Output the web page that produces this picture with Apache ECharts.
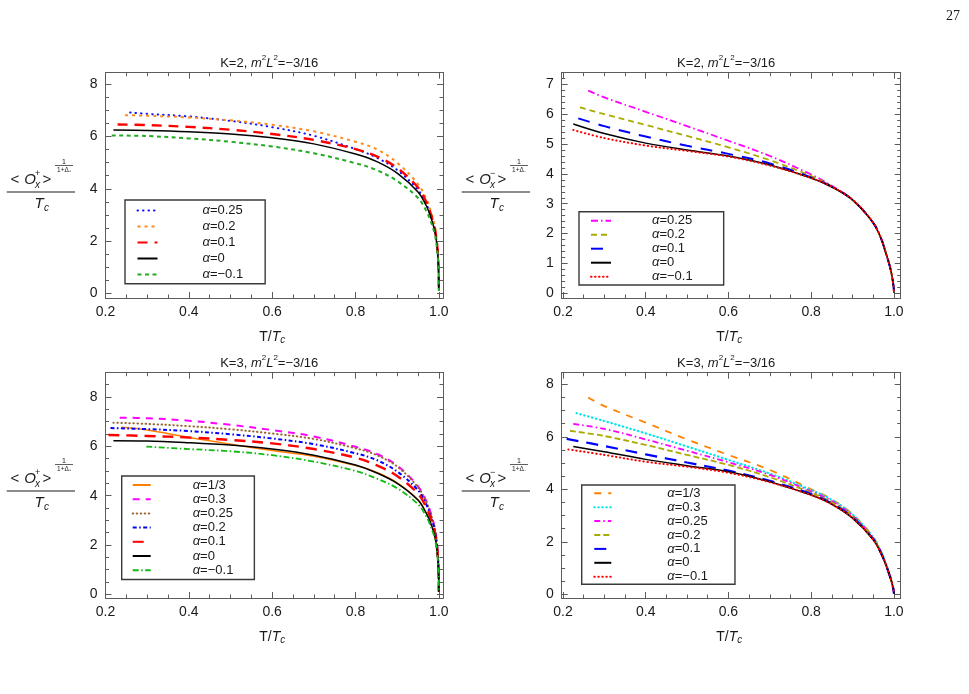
<!DOCTYPE html>
<html>
<head>
<meta charset="utf-8">
<script src="https://cdn.jsdelivr.net/npm/echarts@6/dist/echarts.min.js"></script>
<style>
html, body { margin: 0; padding: 0; background: #fff; }
#chart { width: 969px; height: 694px; }
</style>
</head>
<body>
<div id="chart"></div>
<script>
// ---- tick labels ----
var xTicks = [0.2, 0.4, 0.6, 0.8, 1.0];
var yTicksEven = [0, 2, 4, 6, 8];
var yTicksOne = [0, 1, 2, 3, 4, 5, 6, 7];

// ---- K=2, O+ ----  [T/Tc, value]
var k2p_a025 = [[0.259,6.92],[0.3,6.87],[0.4,6.77],[0.5,6.6],[0.6,6.36],[0.7,6.03],[0.8,5.52],[0.85,5.2],[0.9,4.72],[0.95,3.96],[0.97,3.42],[0.98,3.0],[0.99,2.45],[0.995,1.95],[0.998,1.4],[0.9995,0.8],[1.0,0.1]];
var k2p_a02  = [[0.247,6.82],[0.3,6.8],[0.4,6.73],[0.5,6.62],[0.6,6.45],[0.7,6.2],[0.8,5.8],[0.85,5.52],[0.9,5.0],[0.95,4.18],[0.97,3.62],[0.98,3.18],[0.99,2.6],[0.995,2.05],[0.998,1.45],[0.9995,0.85],[1.0,0.1]];
var k2p_a01  = [[0.229,6.46],[0.3,6.44],[0.4,6.37],[0.5,6.26],[0.6,6.1],[0.7,5.87],[0.8,5.52],[0.85,5.25],[0.9,4.8],[0.95,4.05],[0.97,3.5],[0.98,3.08],[0.99,2.5],[0.995,2.0],[0.998,1.42],[0.9995,0.82],[1.0,0.1]];
var k2p_a0   = [[0.219,6.25],[0.3,6.23],[0.4,6.18],[0.5,6.1],[0.6,5.95],[0.7,5.72],[0.8,5.33],[0.85,5.05],[0.9,4.6],[0.95,3.88],[0.97,3.35],[0.98,2.95],[0.99,2.4],[0.995,1.9],[0.998,1.35],[0.9995,0.78],[1.0,0.1]];
var k2p_am01 = [[0.215,6.04],[0.3,6.02],[0.4,5.93],[0.5,5.8],[0.6,5.62],[0.7,5.36],[0.8,4.98],[0.85,4.72],[0.9,4.3],[0.95,3.65],[0.97,3.15],[0.98,2.78],[0.99,2.28],[0.995,1.8],[0.998,1.28],[0.9995,0.75],[1.0,0.1]];

// ---- K=2, O- ----
var k2m_a025 = [[0.261,6.79],[0.3,6.56],[0.4,6.08],[0.5,5.6],[0.6,5.11],[0.7,4.6],[0.8,3.98],[0.85,3.6],[0.9,3.12],[0.95,2.36],[0.97,1.8],[0.98,1.38],[0.99,0.92],[0.995,0.6],[0.999,0.25],[1.0,0.05]];
var k2m_a02  = [[0.241,6.23],[0.3,6.0],[0.4,5.64],[0.5,5.27],[0.6,4.89],[0.7,4.46],[0.8,3.93],[0.85,3.58],[0.9,3.12],[0.95,2.36],[0.97,1.8],[0.98,1.38],[0.99,0.92],[0.995,0.6],[0.999,0.25],[1.0,0.05]];
var k2m_a01  = [[0.237,5.86],[0.3,5.6],[0.4,5.25],[0.5,4.94],[0.6,4.67],[0.7,4.35],[0.8,3.88],[0.85,3.57],[0.9,3.13],[0.95,2.36],[0.97,1.8],[0.98,1.37],[0.99,0.91],[0.995,0.6],[0.999,0.25],[1.0,0.05]];
var k2m_a0   = [[0.225,5.67],[0.3,5.35],[0.4,5.03],[0.5,4.8],[0.6,4.6],[0.7,4.3],[0.8,3.86],[0.85,3.56],[0.9,3.13],[0.95,2.36],[0.97,1.8],[0.98,1.37],[0.99,0.91],[0.995,0.6],[0.999,0.25],[1.0,0.02]];
var k2m_am01 = [[0.225,5.47],[0.3,5.2],[0.4,4.95],[0.5,4.77],[0.6,4.58],[0.7,4.28],[0.8,3.86],[0.85,3.57],[0.9,3.14],[0.95,2.37],[0.97,1.81],[0.98,1.38],[0.99,0.92],[0.995,0.6],[0.999,0.25],[1.0,0.05]];

// ---- K=3, O+ ----
var k3p_a13  = [[0.239,6.77],[0.3,6.66],[0.4,6.36],[0.5,6.09],[0.6,5.83],[0.7,5.6],[0.8,5.22],[0.85,4.95],[0.9,4.52],[0.95,3.83],[0.97,3.3],[0.98,2.92],[0.99,2.4],[0.995,1.9],[0.998,1.35],[0.9995,0.78],[1.0,0.1]];
var k3p_a03  = [[0.234,7.16],[0.3,7.14],[0.4,7.04],[0.5,6.87],[0.6,6.66],[0.7,6.4],[0.8,5.98],[0.85,5.7],[0.9,5.22],[0.95,4.38],[0.97,3.78],[0.98,3.32],[0.99,2.72],[0.995,2.15],[0.998,1.52],[0.9995,0.88],[1.0,0.1]];
var k3p_a025 = [[0.219,6.96],[0.3,6.91],[0.4,6.82],[0.5,6.69],[0.6,6.52],[0.7,6.3],[0.8,5.92],[0.85,5.65],[0.9,5.18],[0.95,4.34],[0.97,3.74],[0.98,3.3],[0.99,2.7],[0.995,2.13],[0.998,1.5],[0.9995,0.87],[1.0,0.1]];
var k3p_a02  = [[0.212,6.74],[0.3,6.7],[0.4,6.62],[0.5,6.49],[0.6,6.32],[0.7,6.09],[0.8,5.72],[0.85,5.45],[0.9,4.98],[0.95,4.22],[0.97,3.64],[0.98,3.2],[0.99,2.62],[0.995,2.07],[0.998,1.46],[0.9995,0.85],[1.0,0.1]];
var k3p_a01  = [[0.207,6.46],[0.3,6.42],[0.4,6.36],[0.5,6.26],[0.6,6.12],[0.7,5.89],[0.8,5.54],[0.85,5.24],[0.9,4.8],[0.95,4.08],[0.97,3.52],[0.98,3.1],[0.99,2.53],[0.995,2.0],[0.998,1.42],[0.9995,0.82],[1.0,0.1]];
var k3p_a0   = [[0.219,6.23],[0.3,6.22],[0.4,6.15],[0.5,6.05],[0.6,5.89],[0.7,5.64],[0.8,5.24],[0.85,4.93],[0.9,4.5],[0.95,3.82],[0.97,3.28],[0.98,2.9],[0.99,2.38],[0.995,1.88],[0.998,1.33],[0.9995,0.77],[1.0,0.1]];
var k3p_am01 = [[0.298,5.99],[0.4,5.89],[0.5,5.8],[0.6,5.64],[0.7,5.38],[0.8,5.0],[0.85,4.7],[0.9,4.3],[0.95,3.65],[0.97,3.15],[0.98,2.78],[0.99,2.28],[0.995,1.8],[0.998,1.28],[0.9995,0.74],[1.0,0.1]];

// ---- K=3, O- ----
var k3m_a13  = [[0.261,7.5],[0.3,7.17],[0.4,6.54],[0.5,5.9],[0.6,5.31],[0.7,4.74],[0.8,4.0],[0.85,3.62],[0.9,3.05],[0.95,2.18],[0.97,1.6],[0.98,1.2],[0.99,0.74],[0.995,0.46],[0.999,0.18],[1.0,0.03]];
var k3m_a03  = [[0.233,6.9],[0.3,6.6],[0.4,6.13],[0.5,5.63],[0.6,5.12],[0.7,4.6],[0.8,3.97],[0.85,3.6],[0.9,3.04],[0.95,2.17],[0.97,1.59],[0.98,1.19],[0.99,0.73],[0.995,0.46],[0.999,0.18],[1.0,0.03]];
var k3m_a025 = [[0.225,6.49],[0.3,6.3],[0.4,5.9],[0.5,5.47],[0.6,5.03],[0.7,4.55],[0.8,3.92],[0.85,3.55],[0.9,3.0],[0.95,2.14],[0.97,1.57],[0.98,1.17],[0.99,0.72],[0.995,0.45],[0.999,0.17],[1.0,0.03]];
var k3m_a02  = [[0.217,6.23],[0.3,6.03],[0.4,5.69],[0.5,5.31],[0.6,4.93],[0.7,4.46],[0.8,3.87],[0.85,3.5],[0.9,2.97],[0.95,2.12],[0.97,1.55],[0.98,1.16],[0.99,0.71],[0.995,0.45],[0.999,0.17],[1.0,0.03]];
var k3m_a01  = [[0.209,5.92],[0.3,5.65],[0.4,5.33],[0.5,5.02],[0.6,4.71],[0.7,4.32],[0.8,3.82],[0.85,3.46],[0.9,2.93],[0.95,2.1],[0.97,1.53],[0.98,1.15],[0.99,0.7],[0.995,0.44],[0.999,0.17],[1.0,0.03]];
var k3m_a0   = [[0.225,5.63],[0.3,5.43],[0.4,5.14],[0.5,4.9],[0.6,4.67],[0.7,4.29],[0.8,3.78],[0.85,3.43],[0.9,2.9],[0.95,2.08],[0.97,1.52],[0.98,1.14],[0.99,0.7],[0.995,0.44],[0.999,0.17],[1.0,0.02]];
var k3m_am01 = [[0.213,5.52],[0.3,5.31],[0.4,5.05],[0.5,4.86],[0.6,4.63],[0.7,4.27],[0.8,3.78],[0.85,3.43],[0.9,2.91],[0.95,2.09],[0.97,1.53],[0.98,1.15],[0.99,0.7],[0.995,0.44],[0.999,0.17],[1.0,0.03]];

var FONT = '"Liberation Sans", Arial, sans-serif';
var frameColor = '#5c5c5c';
var textColor = '#1a1a1a';

// 面板设置
var panels = [
	{
		rect: {left: 105.5, top: 72.7, width: 337.5, height: 225.3},
		x: [0.2, 1.01], y: [-0.18, 8.444], yTicks: yTicksEven, yStep: 0.5,
		k: '2', sign: '+', cx: 41, by: 192,
		legend: {left: 125, top: 200, padding: [4, 22, 2.8, 11.5], itemWidth: 20, itemHeight: 12, itemGap: 3, pad: 40},
		series: [
			{label: '0.25', data: k2p_a025, color: '#1010ff', dash: [0.5, 5], width: 2, cap: 'round'},
			{label: '0.2', data: k2p_a02, color: '#ff8a1c', dash: [3, 4], width: 2},
			{label: '0.1', data: k2p_a01, color: '#ff0000', dash: [10, 7], width: 2.4},
			{label: '0', data: k2p_a0, color: '#000000', width: 1.5},
			{label: '−0.1', data: k2p_am01, color: '#22aa22', dash: [4, 3.5], width: 2}
		]
	},
	{
		rect: {left: 561.7, top: 72.7, width: 339, height: 225.3},
		x: [0.197, 1.0164], y: [-0.157, 7.389], yTicks: yTicksOne, yStep: 0.2,
		k: '2', sign: '−', cx: 496, by: 192,
		legend: {left: 579, top: 211.7, padding: [2.5, 31, 1.8, 11], itemWidth: 20, itemHeight: 10, itemGap: 1, pad: 36},
		series: [
			{label: '0.25', data: k2m_a025, color: '#ff00ff', dash: [7, 3, 1.5, 3], width: 1.8},
			{label: '0.2', data: k2m_a02, color: '#aaaa00', dash: [6, 4], width: 1.8},
			{label: '0.1', data: k2m_a01, color: '#0000ff', dash: [12, 9], width: 2},
			{label: '0', data: k2m_a0, color: '#000000', width: 1.5},
			{label: '−0.1', data: k2m_am01, color: '#ff0000', dash: [0.5, 3.5], width: 2, cap: 'round'}
		]
	},
	{
		rect: {left: 105.5, top: 372.7, width: 337.5, height: 225.3},
		x: [0.2, 1.01], y: [-0.15, 8.986], yTicks: yTicksEven, yStep: 0.5,
		k: '3', sign: '+', cx: 41, by: 491,
		legend: {left: 121.7, top: 476, padding: [2.5, 21, 2.8, 10], itemWidth: 18, itemHeight: 10, itemGap: 1.2, pad: 37},
		series: [
			{label: '1/3', data: k3p_a13, color: '#ff8000', width: 1.5},
			{label: '0.3', data: k3p_a03, color: '#ff00ff', dash: [7, 6], width: 2},
			{label: '0.25', data: k3p_a025, color: '#996633', dash: [0.5, 3.5], width: 2, cap: 'round'},
			{label: '0.2', data: k3p_a02, color: '#0000ff', dash: [4, 2.5, 1.5, 2.5], width: 2},
			{label: '0.1', data: k3p_a01, color: '#ff0000', dash: [11, 7], width: 2.4},
			{label: '0', data: k3p_a0, color: '#000000', width: 1.5},
			{label: '−0.1', data: k3p_am01, color: '#11bb11', dash: [6, 2.5, 1.5, 2.5], width: 1.8}
		]
	},
	{
		rect: {left: 561.7, top: 372.7, width: 339, height: 225.3},
		x: [0.197, 1.0164], y: [-0.141, 8.442], yTicks: yTicksEven, yStep: 0.5,
		k: '3', sign: '−', cx: 496, by: 491,
		legend: {left: 581.7, top: 485, padding: [1.8, 27, 1.1, 11.6], itemWidth: 17, itemHeight: 10, itemGap: 0.9, pad: 51},
		series: [
			{label: '1/3', data: k3m_a13, color: '#ff8000', dash: [7, 7], width: 1.8},
			{label: '0.3', data: k3m_a03, color: '#00e6e6', dash: [0.5, 3.5], width: 2.2, cap: 'round'},
			{label: '0.25', data: k3m_a025, color: '#ff00ff', dash: [6, 3, 1.5, 3], width: 1.8},
			{label: '0.2', data: k3m_a02, color: '#aaaa00', dash: [6, 3], width: 1.8},
			{label: '0.1', data: k3m_a01, color: '#0000ff', dash: [12, 8], width: 2.2},
			{label: '0', data: k3m_a0, color: '#000000', width: 1.5},
			{label: '−0.1', data: k3m_am01, color: '#ff0000', dash: [0.5, 3.5], width: 2, cap: 'round'}
		]
	}
];

var steps = function(from, to, step) {
	var r = [];
	for (var v = from; v <= to + 1e-9; v += step) {
		r.push(+v.toFixed(3));
	}
	return r;
};

var makeAxis = function(dim, gi, pos, range, ticks, len, labels) {
	return {
		type: 'value', gridIndex: gi, position: pos, min: range[0], max: range[1],
		axisLine: {show: true, onZero: false, lineStyle: {color: frameColor, width: 1}},
		axisTick: {show: true, inside: true, length: len, customValues: ticks, lineStyle: {color: frameColor, width: 1}},
		axisLabel: {
			show: labels, customValues: ticks, margin: dim === 'x' ? 7 : 8,
			color: textColor, fontFamily: FONT, fontSize: 14,
			formatter: function(v) { return dim === 'x' ? v.toFixed(1) : String(Math.round(v)); }
		},
		splitLine: {show: false}, minorTick: {show: false}, minorSplitLine: {show: false},
		axisPointer: {show: false}
	};
};

// 文字工具
var txt = function(x, y, t, size, italic, align, family) {
	return {
		type: 'text', x: x, y: y, silent: true,
		style: {
			text: t, fill: textColor,
			font: (italic ? 'italic ' : '') + size + 'px ' + (family || FONT),
			align: align || 'center', verticalAlign: 'middle',
			textAlign: align || 'center', textVerticalAlign: 'middle'
		}
	};
};
var hline = function(x1, x2, y, w) {
	return {type: 'line', silent: true, shape: {x1: x1, y1: y, x2: x2, y2: y}, style: {stroke: textColor, lineWidth: w}};
};
var mctx = document.createElement('canvas').getContext('2d');
var textRun = function(cx, cy, pieces) {
	var total = 0;
	pieces.forEach(function(p) {
		mctx.font = (p.i ? 'italic ' : '') + p.s + 'px ' + FONT;
		p.w = mctx.measureText(p.t).width;
		total += p.w;
	});
	var x = cx - total / 2;
	var out = [];
	pieces.forEach(function(p) {
		out.push(txt(x, cy + (p.dy || 0), p.t, p.s, p.i, 'left'));
		x += p.w;
	});
	return out;
};

var option = {
	animation: false,
	backgroundColor: '#fff',
	grid: [], xAxis: [], yAxis: [], series: [], legend: [], graphic: []
};
var gfx = [];

panels.forEach(function(p, i) {
	var main = Object.assign({outerBoundsMode: 'none', containLabel: false, show: false}, p.rect);
	var over = Object.assign({outerBoundsMode: 'none', containLabel: false, show: false}, p.rect);
	option.grid.push(main, over);
	var gm = 2 * i, go = 2 * i + 1;
	var xMinor = steps(0.2, 1.0, 0.05);
	var yMinor = steps(0, p.y[1], p.yStep);

	option.xAxis.push(makeAxis('x', gm, 'bottom', p.x, xTicks, 6, true));
	option.xAxis.push(makeAxis('x', gm, 'top', p.x, xTicks, 6, false));
	option.xAxis.push(makeAxis('x', go, 'bottom', p.x, xMinor, 3.5, false));
	option.xAxis.push(makeAxis('x', go, 'top', p.x, xMinor, 3.5, false));
	option.yAxis.push(makeAxis('y', gm, 'left', p.y, p.yTicks, 6, true));
	option.yAxis.push(makeAxis('y', gm, 'right', p.y, p.yTicks, 6, false));
	option.yAxis.push(makeAxis('y', go, 'left', p.y, yMinor, 3.5, false));
	option.yAxis.push(makeAxis('y', go, 'right', p.y, yMinor, 3.5, false));

	var names = [];
	var labelOf = {};
	p.series.forEach(function(s, j) {
		var id = 'p' + i + '_' + j;
		names.push(id);
		labelOf[id] = '{a|α}=' + s.label;
		option.series.push({
			name: id, type: 'line', xAxisIndex: 4 * i, yAxisIndex: 4 * i,
			data: s.data, symbol: 'none', showSymbol: false,
			smooth: 0.35, clip: true,
			lineStyle: {color: s.color, width: s.width, type: s.dash || 'solid', cap: s.cap || 'butt'},
			itemStyle: {color: s.color},
			emphasis: {disabled: true}, z: 2 + j
		});
	});

	var L = p.legend;
	option.legend.push({
		show: true, orient: 'vertical', left: L.left, top: L.top, padding: L.padding,
		itemWidth: L.itemWidth, itemHeight: L.itemHeight, itemGap: L.itemGap,
		borderColor: '#3a3a3a', borderWidth: 1.4, backgroundColor: '#fff',
		selectedMode: false, data: names,
		// 只要线段, 不要圆点
		itemStyle: {color: 'rgba(0,0,0,0)', borderWidth: 0, opacity: 0},
		formatter: function(n) { return labelOf[n]; },
		textStyle: {
			fontFamily: FONT, fontSize: 13, color: textColor, padding: [0, 0, 0, L.pad],
			rich: {a: {fontFamily: FONT, fontSize: 13, fontStyle: 'italic', color: textColor}}
		}
	});

	// 标题
	var pcx = p.rect.left + p.rect.width / 2;
	var ty = p.rect.top - 9.5;
	gfx = gfx.concat(textRun(pcx - 5, ty, [
		{t: 'K=' + p.k + ', ', s: 13},
		{t: 'm', s: 13, i: true},
		{t: '2', s: 8, dy: -5},
		{t: 'L', s: 13, i: true},
		{t: '2', s: 8, dy: -5},
		{t: '=−3/16', s: 13}
	]));

	// x 轴名称
	gfx = gfx.concat(textRun(pcx - 2, p.rect.top + p.rect.height + 38.7, [
		{t: 'T/', s: 14},
		{t: 'T', s: 14, i: true},
		{t: 'c', s: 10, i: true, dy: 4}
	]));

	// y 轴名称 (分式)
	var cx = p.cx, by = p.by;
	var dsub = p.sign === '+' ? '₊' : '₋';
	gfx.push(
		txt(cx - 26, by - 12, '<', 15),
		txt(cx - 11, by - 12, 'O', 15, true),
		txt(cx - 6, by - 18.5, p.sign, 9, false, 'left'),
		txt(cx - 6, by - 7, 'x', 10, true, 'left'),
		txt(cx + 6, by - 12, '>', 15),
		txt(cx + 23, by - 30, '1', 7),
		hline(cx + 14, cx + 32, by - 26.5, 0.7),
		txt(cx + 23, by - 22, '1+Δ' + dsub, 6.5),
		hline(cx - 34.3, cx + 34, by, 1.2),
		txt(cx - 2, by + 12, 'T', 15, true),
		txt(cx + 3, by + 16, 'c', 10, true, 'left')
	);
});

// 页码
gfx.push(txt(960, 16, '27', 14, false, 'right', '"Liberation Serif", "DejaVu Serif", serif'));
option.graphic = {elements: gfx};

var myChart = echarts.init(document.getElementById('chart'), null, {renderer: 'canvas'});
myChart.setOption(option);
</script>
</body>
</html>
